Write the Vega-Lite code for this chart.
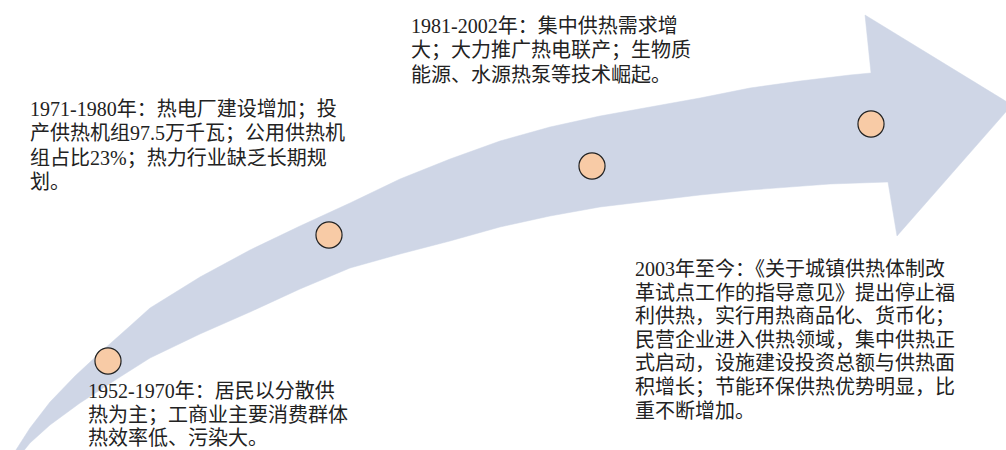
{
  "$schema": "https://vega.github.io/schema/vega-lite/v6.json",
  "width": 1006,
  "height": 450,
  "padding": 0,
  "autosize": {"type": "none"},
  "background": "white",
  "config": {"view": {"stroke": null}},
  "datasets": {
    "arrow": [
      {"i": 0, "x": 14, "y": 453}, {"i": 1, "x": 30, "y": 428}, {"i": 2, "x": 50, "y": 402},
      {"i": 3, "x": 75, "y": 376}, {"i": 4, "x": 103, "y": 350}, {"i": 5, "x": 130, "y": 326},
      {"i": 6, "x": 150, "y": 308}, {"i": 7, "x": 200, "y": 277}, {"i": 8, "x": 250, "y": 250},
      {"i": 9, "x": 300, "y": 226}, {"i": 10, "x": 350, "y": 203}, {"i": 11, "x": 400, "y": 179},
      {"i": 12, "x": 450, "y": 159}, {"i": 13, "x": 500, "y": 141}, {"i": 14, "x": 550, "y": 127},
      {"i": 15, "x": 600, "y": 116}, {"i": 16, "x": 650, "y": 107}, {"i": 17, "x": 700, "y": 98},
      {"i": 18, "x": 750, "y": 88}, {"i": 19, "x": 800, "y": 81}, {"i": 20, "x": 850, "y": 75},
      {"i": 21, "x": 871, "y": 73}, {"i": 22, "x": 865, "y": 15}, {"i": 23, "x": 1012, "y": 105},
      {"i": 24, "x": 897, "y": 236}, {"i": 25, "x": 888, "y": 182}, {"i": 26, "x": 830, "y": 184},
      {"i": 27, "x": 750, "y": 190}, {"i": 28, "x": 700, "y": 195}, {"i": 29, "x": 650, "y": 201},
      {"i": 30, "x": 600, "y": 207}, {"i": 31, "x": 550, "y": 216}, {"i": 32, "x": 500, "y": 227},
      {"i": 33, "x": 450, "y": 241}, {"i": 34, "x": 400, "y": 254}, {"i": 35, "x": 350, "y": 268},
      {"i": 36, "x": 300, "y": 289}, {"i": 37, "x": 250, "y": 312}, {"i": 38, "x": 200, "y": 334},
      {"i": 39, "x": 150, "y": 358}, {"i": 40, "x": 120, "y": 377}, {"i": 41, "x": 80, "y": 403},
      {"i": 42, "x": 50, "y": 425}, {"i": 43, "x": 30, "y": 443}, {"i": 44, "x": 22, "y": 453}
    ],
    "dots": [
      {"period": "1952-1970", "x": 108, "y": 361},
      {"period": "1971-1980", "x": 329, "y": 235},
      {"period": "1981-2002", "x": 592, "y": 166},
      {"period": "2003-", "x": 871, "y": 124}
    ],
    "labels": [
      {"group": "a", "x": 30, "y": 100, "t": "1971-1980年：热电厂建设增加；投\n产供热机组97.5万千瓦；公用供热机\n组占比23%；热力行业缺乏长期规\n划。"},
      {"group": "a", "x": 411, "y": 17, "t": "1981-2002年：集中供热需求增\n大；大力推广热电联产；生物质\n能源、水源热泵等技术崛起。"},
      {"group": "b", "x": 635, "y": 260, "t": "2003年至今：《关于城镇供热体制改\n革试点工作的指导意见》提出停止福\n利供热，实行用热商品化、货币化；\n民营企业进入供热领域，集中供热正\n式启动，设施建设投资总额与供热面\n积增长；节能环保供热优势明显，比\n重不断增加。"},
      {"group": "b", "x": 88, "y": 382, "t": "1952-1970年：居民以分散供\n热为主；工商业主要消费群体\n热效率低、污染大。"}
    ]
  },
  "encoding": {
    "x": {"field": "x", "type": "quantitative", "scale": {"domain": [0, 1006], "nice": false, "zero": false}, "axis": null},
    "y": {"field": "y", "type": "quantitative", "scale": {"domain": [0, 450], "reverse": true, "nice": false, "zero": false}, "axis": null}
  },
  "layer": [
    {
      "data": {"name": "arrow"},
      "mark": {"type": "line", "fill": "#cfd6e6", "stroke": "#cfd6e6", "strokeWidth": 0.5, "clip": true, "interpolate": "linear-closed"},
      "encoding": {"order": {"field": "i", "type": "quantitative"}}
    },
    {
      "data": {"name": "dots"},
      "mark": {"type": "point", "shape": "circle", "filled": true, "fill": "#f8cba6", "stroke": "#222222", "strokeWidth": 1.2, "size": 680, "opacity": 1},
      "encoding": {}
    },
    {
      "data": {"name": "labels"},
      "transform": [{"filter": "datum.group === 'a'"}],
      "mark": {"type": "text", "align": "left", "baseline": "top", "lineBreak": "\n", "lineHeight": 24.4, "font": "Liberation Serif, Noto Sans CJK SC", "fontSize": 20, "color": "#222222"},
      "encoding": {"text": {"field": "t", "type": "nominal"}}
    },
    {
      "data": {"name": "labels"},
      "transform": [{"filter": "datum.group === 'b'"}],
      "mark": {"type": "text", "align": "left", "baseline": "top", "lineBreak": "\n", "lineHeight": 23.6, "font": "Liberation Serif, Noto Sans CJK SC", "fontSize": 20, "color": "#222222"},
      "encoding": {"text": {"field": "t", "type": "nominal"}}
    }
  ]
}
